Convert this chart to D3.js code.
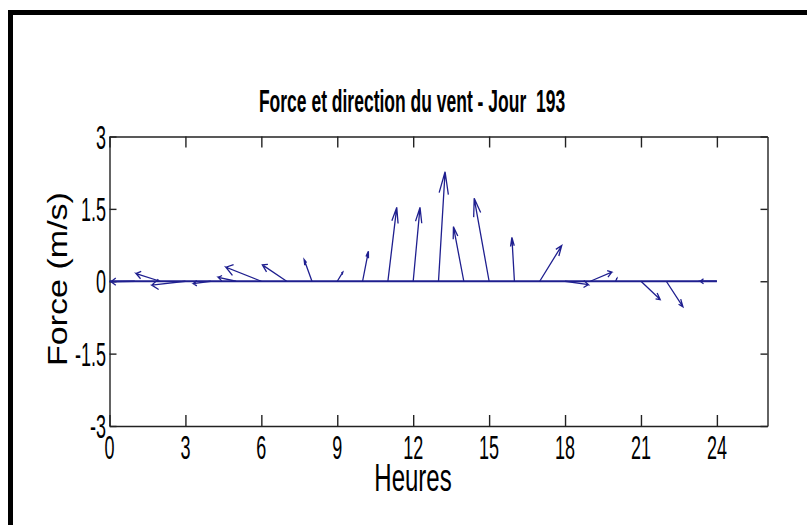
<!DOCTYPE html>
<html>
<head>
<meta charset="utf-8">
<script src="https://cdn.jsdelivr.net/npm/d3@7"></script>
<style>
  html, body { margin: 0; padding: 0; background: #fff; }
  svg { display: block; }
  text { font-family: "Liberation Sans", Arial, sans-serif; fill: #000; white-space: pre; }
</style>
</head>
<body>
<div class="feather"></div>
<script>
'use strict';

// Data: hour of each vector, east (u, in hours) and north (v, in m/s) components
var hours = [1, 2, 3, 4, 5, 6, 7, 8, 9, 10, 11, 12, 13, 14, 15, 16, 17, 18, 19, 20, 21, 22, 23, 24];
var uComp = [-0.94, -0.95, -1.33, -0.69, -0.70, -1.40, -0.96, -0.31, 0.22, 0.23, 0.35, 0.27,
             0.26, -0.41, -0.59, -0.10, 0.87, 0.92, 0.85, 0.05, 0.76, 0.66, 0.00, -0.66];
var vComp = [-0.01, 0.16, -0.08, -0.05, 0.08, 0.29, 0.34, 0.45, 0.19, 0.62, 1.53, 1.53,
             2.27, 1.13, 1.72, 0.91, 0.74, -0.07, 0.19, 0.06, -0.38, -0.53, 0.00, 0.00];

// Ticks
var xTicks = [0, 3, 6, 9, 12, 15, 18, 21, 24];
var yTicks = [-3, -1.5, 0, 1.5, 3];
var yTickLabels = ['-3', '-1.5', '0', '1.5', '3'];

(function() {
  var w = 807;
  var h = 525;
  var BLUE = '#1f1f8f';
  var stretch = 1.85; // the original picture is stretched vertically

  var xScale = d3.scaleLinear().domain([0, 26]).range([109.5, 767.5]);
  var yScale = d3.scaleLinear().domain([-3, 3]).range([426, 136.5]);

  var svg = d3.select('.feather')
    .append('svg')
    .attr('width', w)
    .attr('height', h);

  // Outer frame
  svg.append('rect')
    .attr('x', 10.5)
    .attr('y', 12.5)
    .attr('width', 1000)
    .attr('height', 1000)
    .attr('fill', 'none')
    .attr('stroke', '#000')
    .attr('stroke-width', 5);

  // Axes (box with inward ticks on every side)
  var axes = svg.append('g').attr('class', 'axes');

  axes.append('g')
    .attr('transform', 'translate(0,' + yScale(-3) + ')')
    .call(d3.axisBottom(xScale).tickValues(xTicks).tickSizeInner(-11).tickSizeOuter(0).tickFormat(''));
  axes.append('g')
    .attr('transform', 'translate(0,' + yScale(3) + ')')
    .call(d3.axisTop(xScale).tickValues(xTicks).tickSizeInner(-11).tickSizeOuter(0).tickFormat(''));
  axes.append('g')
    .attr('transform', 'translate(' + xScale(0) + ',0)')
    .call(d3.axisLeft(yScale).tickValues(yTicks).tickSizeInner(-7).tickSizeOuter(0).tickFormat(''));
  axes.append('g')
    .attr('transform', 'translate(' + xScale(26) + ',0)')
    .call(d3.axisRight(yScale).tickValues(yTicks).tickSizeInner(-7).tickSizeOuter(0).tickFormat(''));

  axes.selectAll('path, line')
    .attr('stroke', '#222')
    .attr('stroke-width', 1.4);

  // Tick labels
  svg.append('g')
    .selectAll('text')
    .data(xTicks)
    .enter()
    .append('text')
    .attr('text-anchor', 'middle')
    .attr('font-size', 18)
    .attr('transform', function(d) {
      return 'translate(' + xScale(d) + ',459) scale(1,' + stretch + ')';
    })
    .text(function(d) { return d; });

  svg.append('g')
    .selectAll('text')
    .data(yTicks)
    .enter()
    .append('text')
    .attr('text-anchor', 'end')
    .attr('font-size', 18)
    .attr('transform', function(d) {
      return 'translate(106,' + (yScale(d) + 12) + ') scale(1,' + stretch + ')';
    })
    .text(function(d, i) { return yTickLabels[i]; });

  // Title and axis labels
  svg.append('text')
    .attr('text-anchor', 'middle')
    .attr('font-size', 17.5)
    .attr('font-weight', 'bold')
    .attr('transform', 'translate(412,112) scale(1,1.83)')
    .text('Force et direction du vent - Jour  193');

  svg.append('text')
    .attr('text-anchor', 'middle')
    .attr('font-size', 24)
    .attr('transform', 'translate(413,491) scale(1,1.6)')
    .text('Heures');

  svg.append('text')
    .attr('text-anchor', 'middle')
    .attr('font-size', 27)
    .attr('transform', 'translate(67,279) rotate(-90) scale(1.26,1)')
    .text('Force (m/s)');

  // Feather arrows: shaft plus two barbs, shaped in data units like MATLAB feather
  var line = d3.line()
    .x(function(p) { return xScale(p[0]); })
    .y(function(p) { return yScale(p[1]); });

  var arrowPoints = function(i) {
    var x0 = hours[i];
    var u = uComp[i];
    var v = vComp[i];
    // head: 0.8 * z +/- 0.08 * i * z
    return [
      [x0, 0],
      [x0 + u, v],
      [x0 + 0.8 * u - 0.08 * v, 0.8 * v + 0.08 * u],
      [x0 + u, v],
      [x0 + 0.8 * u + 0.08 * v, 0.8 * v - 0.08 * u]
    ];
  };

  var plot = svg.append('g').attr('class', 'data');

  // Zero line
  plot.append('path')
    .attr('d', line([[xTicks[0], 0], [xTicks[xTicks.length - 1], 0]]))
    .attr('stroke', BLUE)
    .attr('stroke-width', 2)
    .attr('fill', 'none');

  plot.selectAll('path.arrow')
    .data(hours)
    .enter()
    .append('path')
    .attr('class', 'arrow')
    .attr('d', function(d, i) { return line(arrowPoints(i)); })
    .attr('stroke', BLUE)
    .attr('stroke-width', 1.3)
    .attr('fill', 'none');
})();
</script>
</body>
</html>
